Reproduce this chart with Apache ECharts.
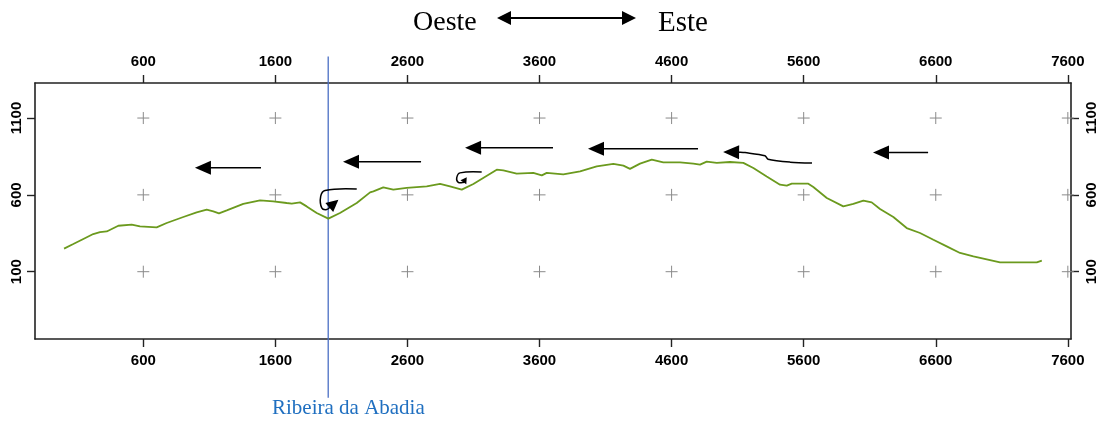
<!DOCTYPE html>
<html>
<head>
<meta charset="utf-8">
<script src="https://cdn.jsdelivr.net/npm/echarts@6/dist/echarts.min.js"></script>
<style>html,body{margin:0;padding:0;background:#fff}#c{width:1099px;height:421px}</style>
</head>
<body>
<div id="c"></div>
<script>
// ---- data ----
const xTicks = [600, 1600, 2600, 3600, 4600, 5600, 6600, 7600];
const yTicks = [100, 600, 1100];
const profileX = [0, 70, 146, 221, 272, 323, 411, 512, 575, 701, 777, 903, 1004, 1080, 1130, 1173, 1232, 1357, 1484, 1584, 1686, 1724, 1787, 1837, 1913, 2001, 2089, 2216, 2317, 2342, 2417, 2493, 2594, 2746, 2847, 2922, 3011, 3099, 3276, 3326, 3427, 3553, 3617, 3655, 3780, 3907, 4033, 4159, 4235, 4285, 4361, 4450, 4537, 4664, 4765, 4815, 4866, 4942, 5042, 5143, 5219, 5320, 5421, 5472, 5510, 5635, 5673, 5775, 5900, 5976, 6052, 6115, 6178, 6279, 6380, 6481, 6582, 6683, 6784, 6885, 7087, 7365, 7403];
const profileY = [250, 280, 313, 345, 358, 362, 399, 406, 395, 388, 417, 456, 486, 504, 493, 480, 499, 541, 564, 558, 547, 543, 551, 525, 482, 445, 482, 547, 616, 623, 649, 634, 645, 655, 671, 655, 634, 671, 764, 759, 738, 743, 727, 743, 733, 753, 785, 801, 790, 769, 803, 829, 812, 812, 803, 797, 816, 808, 814, 808, 775, 720, 666, 660, 673, 673, 651, 580, 525, 541, 562, 551, 508, 456, 384, 352, 308, 265, 222, 200, 161, 161, 172];
const riverX = 2000;
const riverLabel = 'Ribeira da Abadia';
const westLabel = 'Oeste';
const eastLabel = 'Este';
// flow arrows (data coordinates, last point is the arrow tip)
const flowArrows = [
  {pts: [[1491, 777], [991, 777]], head: [16, 7], smooth: 0},
  {pts: [[2703, 816], [2112, 816]], head: [16, 7], smooth: 0},
  {pts: [[3702, 907], [3036, 907]], head: [16, 7], smooth: 0},
  {pts: [[4800, 900], [3967, 900]], head: [16, 7], smooth: 0},
  {pts: [[5663, 808], [5497, 813], [5330, 832], [5307, 855], [5156, 875], [5103, 878], [4990, 879]], head: [16, 7], smooth: 0.3},
  {pts: [[6542, 875], [6125, 875]], head: [16, 7], smooth: 0},
  {pts: [[2216, 638], [1976, 629], [1943, 590], [1951, 515], [1989, 504], [2077, 569]], head: [12, 6], smooth: 0.4},
  {pts: [[3162, 749], [2998, 743], [2973, 710], [2985, 681], [3023, 681], [3049, 714]], head: [6, 3.5], smooth: 0.4}
];

const profile = profileX.map((x, i) => [x, profileY[i]]);
const crossData = [];
xTicks.forEach(x => yTicks.forEach(y => crossData.push([x, y])));

const XMIN = -220, XMAX = 7624, YMIN = -338, YMAX = 1328;
const labelFont = {fontFamily: 'Liberation Sans, Arial, sans-serif', fontWeight: 'bold', fontSize: 15, color: '#000'};
const plain = v => String(v);

function xAxisDef(pos) {
  return {
    type: 'value', position: pos, min: XMIN, max: XMAX,
    axisLine: {show: true, onZero: false, lineStyle: {color: '#222', width: 1.6}},
    axisTick: {show: true, inside: false, length: 8, customValues: xTicks, lineStyle: {color: '#222', width: 1.4}},
    axisLabel: Object.assign({show: true, margin: 14, customValues: xTicks, formatter: plain}, labelFont),
    splitLine: {show: false}
  };
}
function yAxisDef(pos, margin) {
  return {
    type: 'value', position: pos, min: YMIN, max: YMAX,
    axisLine: {show: true, onZero: false, lineStyle: {color: '#222', width: 1.6}},
    axisTick: {show: true, inside: false, length: 8, customValues: yTicks, lineStyle: {color: '#222', width: 1.4}},
    axisLabel: Object.assign({show: true, margin: margin, rotate: 90, customValues: yTicks, formatter: plain}, labelFont),
    splitLine: {show: false}
  };
}

const chart = echarts.init(document.getElementById('c'), null, {renderer: 'canvas'});
chart.setOption({
  animation: false,
  backgroundColor: '#fff',
  grid: {left: 35, top: 83, width: 1036, height: 256, containLabel: false},
  xAxis: [xAxisDef('bottom'), xAxisDef('top')],
  yAxis: [yAxisDef('left', 11), yAxisDef('right', 13)],
  series: [
    {
      type: 'custom', xAxisIndex: 0, yAxisIndex: 0, data: crossData, silent: true, clip: false,
      renderItem: function (params, api) {
        const c = api.coord([api.value(0), api.value(1)]);
        const s = 6;
        return {type: 'group', children: [
          {type: 'line', shape: {x1: c[0] - s, y1: c[1], x2: c[0] + s, y2: c[1]}, style: {stroke: '#8a8a8a', lineWidth: 1}},
          {type: 'line', shape: {x1: c[0], y1: c[1] - s, x2: c[0], y2: c[1] + s}, style: {stroke: '#8a8a8a', lineWidth: 1}}
        ]};
      }
    },
    {
      type: 'line', xAxisIndex: 0, yAxisIndex: 0, data: profile, showSymbol: false, silent: true,
      lineStyle: {color: '#6b9a1e', width: 1.8}
    },
    {
      type: 'custom', xAxisIndex: 0, yAxisIndex: 0, data: [[riverX, 0]], silent: true, clip: false,
      renderItem: function (params, api) {
        const top = api.coord([api.value(0), 1500]);
        const bot = api.coord([api.value(0), -720]);
        return {type: 'line', shape: {x1: top[0], y1: top[1], x2: bot[0], y2: bot[1]}, style: {stroke: '#4a6ec4', lineWidth: 1.3}};
      }
    },
    {
      type: 'custom', xAxisIndex: 0, yAxisIndex: 0, data: flowArrows.map(a => a.pts[a.pts.length - 1]), silent: true, clip: false,
      renderItem: function (params, api) {
        const a = flowArrows[params.dataIndex];
        const pts = a.pts.map(p => api.coord(p));
        const tip = pts[pts.length - 1];
        const prev = pts[pts.length - 2];
        let dx = tip[0] - prev[0], dy = tip[1] - prev[1];
        const len = Math.hypot(dx, dy) || 1; dx /= len; dy /= len;
        const L = a.head[0], W = a.head[1];
        const bx = tip[0] - dx * L, by = tip[1] - dy * L;
        const linePts = pts.slice(0, -1).concat([[bx + dx, by + dy]]);
        return {type: 'group', children: [
          {type: 'polyline', shape: {points: linePts, smooth: a.smooth}, style: {stroke: '#000', lineWidth: 1.5, fill: null}},
          {type: 'polygon', shape: {points: [tip, [bx - dy * W, by + dx * W], [bx + dy * W, by - dx * W]]}, style: {fill: '#000'}}
        ]};
      }
    }
  ],
  graphic: [
    {type: 'text', left: 413, top: 9, style: {text: westLabel, font: '28px "Liberation Serif", "Times New Roman", serif', fill: '#000'}},
    {type: 'text', left: 658, top: 9, style: {text: eastLabel, font: '29px "Liberation Serif", "Times New Roman", serif', fill: '#000'}},
    {type: 'line', shape: {x1: 508, y1: 18, x2: 624, y2: 18}, style: {stroke: '#000', lineWidth: 2}},
    {type: 'polygon', shape: {points: [[497, 18], [511, 11], [511, 25]]}, style: {fill: '#000'}},
    {type: 'polygon', shape: {points: [[636, 18], [622, 11], [622, 25]]}, style: {fill: '#000'}},
    {type: 'text', left: 272, top: 398, style: {text: riverLabel, font: '21px "Liberation Serif", "Times New Roman", serif', fill: '#1f6fc0'}}
  ]
});
</script>
</body>
</html>
